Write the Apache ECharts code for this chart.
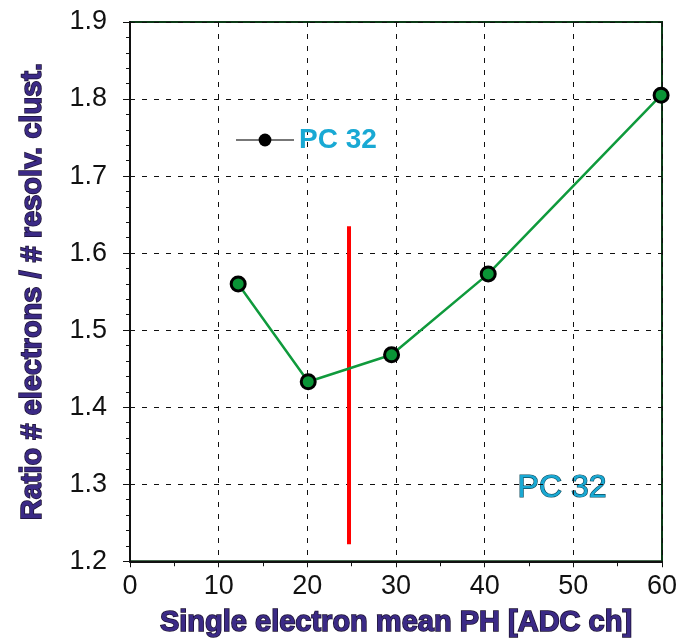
<!DOCTYPE html>
<html><head><meta charset="utf-8">
<script src="https://cdn.jsdelivr.net/npm/echarts@6/dist/echarts.min.js"></script>
<style>html,body{margin:0;padding:0;background:#fff}#c{width:686px;height:643px}</style>
</head><body><div id="c"></div>
<script>
const xValues = [12.2, 20.1, 29.5, 40.4, 59.9];
const yValues = [1.560, 1.433, 1.468, 1.573, 1.805];
const redLineX = [24.7, 24.7];
const redLineY = [1.222, 1.635];
const xTicks = [0, 10, 20, 30, 40, 50, 60];
const yTicks = [1.2, 1.3, 1.4, 1.5, 1.6, 1.7, 1.8, 1.9];
const seriesName = 'PC 32';
const noteText = 'PC 32';

const chart = echarts.init(document.getElementById('c'));
const titleStyle = {fontFamily:'Liberation Sans, Arial', fontWeight:'bold', fontSize:29, color:'#3b2a86', textBorderColor:'#1a1030', textBorderWidth:1.5};
chart.setOption({
  animation:false,
  grid:{left:130, right:24, top:22, bottom:80, show:true, borderColor:'#0b3a16', borderWidth:2},
  legend:{data:[seriesName], left:230, top:121, itemWidth:58, itemHeight:16, itemGap:5,
    textStyle:{fontFamily:'Liberation Sans, Arial', fontWeight:'bold', fontSize:28, color:'#19a9d4'}},
  xAxis:{type:'value', min:xTicks[0], max:xTicks[xTicks.length-1], interval:10,
    name:'Single electron mean PH [ADC ch]', nameLocation:'middle', nameGap:47, nameTextStyle:titleStyle,
    axisLine:{show:true, onZero:false, lineStyle:{color:'#111', width:2}},
    axisTick:{show:true, inside:false, length:6, lineStyle:{color:'#111'}},
    minorTick:{show:true, splitNumber:2, length:5, lineStyle:{color:'#111'}},
    axisLabel:{fontFamily:'Liberation Sans, Arial', fontSize:27, color:'#111', margin:12},
    splitLine:{show:true, lineStyle:{type:[5,7], color:'#111', width:1}}},
  yAxis:{type:'value', min:yTicks[0], max:yTicks[yTicks.length-1], interval:0.1,
    name:'Ratio # electrons / # resolv. clust.', nameLocation:'middle', nameGap:83, nameTextStyle:titleStyle,
    axisLine:{show:true, onZero:false, lineStyle:{color:'#111', width:2}},
    axisTick:{show:true, length:7, lineStyle:{color:'#111'}},
    minorTick:{show:true, splitNumber:5, length:4, lineStyle:{color:'#111'}},
    axisLabel:{fontFamily:'Liberation Sans, Arial', fontSize:27, color:'#111', margin:23, formatter:v=>v.toFixed(1)},
    splitLine:{show:true, lineStyle:{type:[5,7], color:'#111', width:1}}},
  series:[
    {type:'line', name:'red', data:redLineX.map((x,i)=>[x, redLineY[i]]), symbol:'none',
      lineStyle:{color:'#ff0000', width:4}, z:3},
    {type:'line', name:'data', data:xValues.map((x,i)=>[x, yValues[i]]), symbol:'circle', symbolSize:14,
      lineStyle:{color:'#0f9a3c', width:2.5},
      itemStyle:{color:'#0a9436', borderColor:'#000', borderWidth:3}, z:4},
    {type:'line', name:seriesName, data:[], symbol:'circle', symbolSize:14,
      lineStyle:{color:'#777', width:2}, itemStyle:{color:'#000'}}
  ],
  graphic:[{type:'text', left:517, top:472, style:{text:noteText, font:'32px "Liberation Sans", Arial', fill:'#19a9d4', stroke:'#0d4a5c', lineWidth:1.2}}]
});
</script></body></html>
